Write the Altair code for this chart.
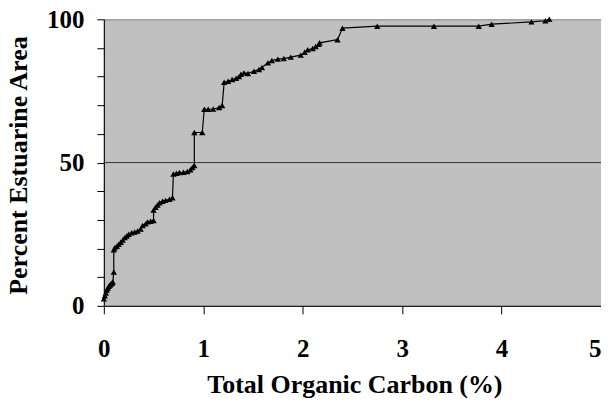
import altair as alt
import pandas as pd

toc = [0.00, 0.01, 0.02, 0.03, 0.04, 0.05, 0.06, 0.07, 0.08, 0.09,
       0.10, 0.10, 0.11, 0.13, 0.15, 0.17, 0.19, 0.21, 0.23, 0.25,
       0.28, 0.31, 0.34, 0.37, 0.39, 0.42, 0.44, 0.47, 0.50, 0.50,
       0.52, 0.54, 0.56, 0.59, 0.62, 0.66, 0.69, 0.70, 0.73, 0.76,
       0.80, 0.84, 0.87, 0.89, 0.91, 0.91, 0.99, 1.01, 1.05, 1.10,
       1.16, 1.19, 1.21, 1.25, 1.29, 1.33, 1.36, 1.38, 1.41, 1.45,
       1.51, 1.56, 1.59, 1.65, 1.69, 1.75, 1.81, 1.88, 1.98, 2.02,
       2.05, 2.10, 2.13, 2.16, 2.17, 2.35, 2.40, 2.75, 3.32, 3.77,
       3.90, 4.30, 4.44, 4.48]
pct_area = [2.5, 3.5, 4.5, 5.5, 6.2, 6.8, 7.2, 7.6, 7.9, 8.3,
            11.8, 19.6, 20.3, 20.8, 21.5, 22.2, 23.0, 23.8, 24.4, 25.0,
            25.5, 25.8, 26.1, 26.8, 28.0, 28.6, 29.3, 29.5, 29.8, 33.4,
            34.4, 35.2, 36.0, 36.5, 36.8, 37.2, 37.7, 46.0, 46.3, 46.5,
            46.6, 46.9, 47.5, 48.3, 49.0, 60.5, 60.5, 68.6, 68.6, 68.7,
            69.2, 69.9, 78.0, 78.4, 79.0, 79.4, 80.0, 80.8, 81.3, 81.1,
            81.9, 82.5, 83.2, 84.8, 85.6, 86.1, 86.3, 86.8, 87.5, 88.5,
            89.4, 89.8, 90.5, 91.3, 91.8, 92.9, 96.9, 97.6, 97.6, 97.6,
            98.3, 99.1, 99.5, 100.0]
grid_values = [50]
x_ticks = [0, 1, 2, 3, 4, 5]
y_ticks = [0, 10, 20, 30, 40, 50, 60, 70, 80, 90, 100]

df = pd.DataFrame({"toc": toc, "area": pct_area, "order": list(range(len(toc)))})
grid_df = pd.DataFrame({"g": grid_values})

FONT = "Liberation Serif"

xs = alt.Scale(domain=[0, 5], nice=False, zero=False)
ys = alt.Scale(domain=[0, 100], nice=False)

x_axis = alt.Axis(values=x_ticks, format="d", title="Total Organic Carbon (%)",
                  labelAlign=alt.ExprRef(expr="datum.value >= 5 ? 'right' : 'center'"))
y_axis = alt.Axis(values=y_ticks,
                  labelExpr="datum.value % 50 == 0 ? datum.label : ''",
                  title="Percent Estuarine Area")

grid = alt.Chart(grid_df).mark_rule(color="#333333", strokeWidth=1).encode(
    y=alt.Y("g:Q", scale=ys, axis=y_axis)
)
line = alt.Chart(df).mark_line(color="black", strokeWidth=1.2).encode(
    x=alt.X("toc:Q", scale=xs, axis=x_axis),
    y=alt.Y("area:Q", scale=ys, axis=y_axis),
    order="order:Q",
)
pts = alt.Chart(df).mark_point(shape="triangle-up", filled=True, color="black",
                               size=40, opacity=1).encode(
    x=alt.X("toc:Q", scale=xs, axis=x_axis),
    y=alt.Y("area:Q", scale=ys, axis=y_axis),
)

chart = alt.layer(grid, line, pts).properties(
    width=498, height=287,
    autosize=alt.AutoSizeParams(type="none"),
    padding={"left": 96, "top": 11, "right": 0, "bottom": 94},
    background="white",
).configure_view(
    fill="#C0C0C0", stroke="#808080", strokeWidth=1
).configure_axis(
    grid=False, tickColor="black", domainColor="black",
    labelFont=FONT, labelFontSize=25, labelFontWeight="bold", labelColor="black",
    labelOverlap=False, labelFlush=False,
    titleFont=FONT, titleFontSize=26, titleFontWeight="bold", titleColor="black",
).configure_axisX(
    tickSize=8, labelBaseline="alphabetic", labelPadding=43,
    titleX=251, titleY=87, titleBaseline="alphabetic", titleAlign="center",
).configure_axisY(
    tickSize=7, labelBaseline="middle", labelPadding=13,
    titleAngle=270, titleX=-85, titleY=146, titleBaseline="middle",
    titleAlign="center",
)

chart.save("out.html", embed_options={"renderer": "svg", "actions": False})
